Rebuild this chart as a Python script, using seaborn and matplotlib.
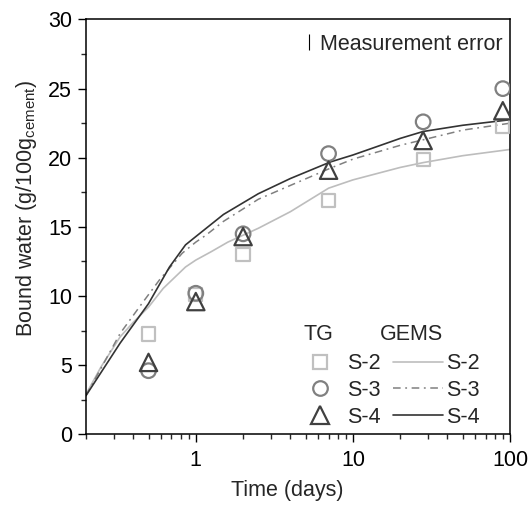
import matplotlib
matplotlib.use("Agg")
import matplotlib.pyplot as plt
import seaborn as sns
from matplotlib.lines import Line2D
from matplotlib.ticker import MultipleLocator, LogLocator, NullFormatter

# ---- data -------------------------------------------------------------
tg_time = [0.5, 1, 2, 7, 28, 90]
tg_s2 = [7.25, 10.1, 13.0, 16.9, 19.9, 22.3]
tg_s3 = [4.6, 10.2, 14.5, 20.3, 22.6, 25.0]
tg_s4 = [5.2, 9.6, 14.3, 19.1, 21.25, 23.4]

gems_s2_t = [0.2, 0.25, 0.33, 0.4, 0.5, 0.62, 0.86, 1.0, 1.25, 1.6, 2.0, 2.5, 4, 7, 10, 20, 28, 50, 100]
gems_s2 = [2.9, 4.9, 7.05, 8.1, 9.2, 10.55, 12.1, 12.6, 13.2, 13.9, 14.4, 14.9, 16.1, 17.8, 18.4, 19.3, 19.65, 20.15, 20.6]

gems_s3_t = [0.2, 0.33, 0.45, 0.59, 0.82, 1.0, 1.16, 1.5, 2.5, 4, 7.2, 10, 20, 28, 50, 100]
gems_s3 = [2.8, 7.3, 9.4, 11.2, 13.1, 13.9, 14.4, 15.4, 17.0, 18.0, 19.25, 19.9, 20.9, 21.3, 22.0, 22.5]

gems_s4_t = [0.2, 0.33, 0.5, 0.68, 0.86, 1.0, 1.5, 2.5, 4, 7.2, 10, 15, 20, 28, 50, 100]
gems_s4 = [2.8, 6.6, 9.45, 12.1, 13.7, 14.3, 15.9, 17.4, 18.5, 19.7, 20.2, 20.9, 21.4, 21.9, 22.35, 22.75]

series_labels = ["S-2", "S-3", "S-4"]
x_ticks = [1, 10, 100]
x_tick_labels = ["1", "10", "100"]
y_ticks = [0, 5, 10, 15, 20, 25, 30]

# ---- style ------------------------------------------------------------
sns.set_style("ticks")
plt.rcParams["font.family"] = ["Liberation Sans", "DejaVu Sans"]
plt.rcParams["mathtext.fontset"] = "custom"
plt.rcParams["mathtext.rm"] = "Liberation Sans"
plt.rcParams["mathtext.it"] = "Liberation Sans"
FS = 15.5

c_light = "#c0c0c0"
c_mid = "#808080"
c_dark = "#404040"

fig = plt.figure(figsize=(5.28, 5.05), dpi=100)
ax = fig.add_axes([86 / 528, 1 - 434.3 / 505, (510 - 86) / 528, (434.3 - 19.5) / 505])

# GEMS lines
sns.lineplot(x=gems_s2_t, y=gems_s2, ax=ax, color="#bdbdbd", lw=1.2, estimator=None, sort=False)
sns.lineplot(x=gems_s3_t, y=gems_s3, ax=ax, color=c_mid, lw=1.1, estimator=None, sort=False,
             ls=(0, (5, 3, 1.2, 3)))
sns.lineplot(x=gems_s4_t, y=gems_s4, ax=ax, color="#333333", lw=1.2, estimator=None, sort=False)

# TG markers
ms_sq, ms_ci, ms_tr = 9.5, 10.5, 12.5
sns.scatterplot(x=tg_time, y=tg_s2, ax=ax, marker="s", s=ms_sq ** 2, color=c_light,
                facecolor="none", edgecolor=c_light, linewidth=1.6, zorder=3)
sns.scatterplot(x=tg_time, y=tg_s3, ax=ax, marker="o", s=ms_ci ** 2, color=c_mid,
                facecolor="none", edgecolor=c_mid, linewidth=1.6, zorder=3)
sns.scatterplot(x=tg_time, y=tg_s4, ax=ax, marker="^", s=ms_tr ** 2, color=c_dark,
                facecolor="none", edgecolor=c_dark, linewidth=1.6, zorder=3)

# ---- axes -------------------------------------------------------------
ax.set_xscale("log")
ax.set_xlim(0.2, 100)
ax.set_ylim(0, 30)
ax.set_xticks(x_ticks, labels=x_tick_labels)
ax.xaxis.set_minor_locator(LogLocator(base=10, subs=range(2, 10)))
ax.xaxis.set_minor_formatter(NullFormatter())
ax.set_yticks(y_ticks)
ax.yaxis.set_minor_locator(MultipleLocator(2.5))

for sp in ax.spines.values():
    sp.set_visible(True)
    sp.set_linewidth(1.1)
    sp.set_color("black")
ax.tick_params(axis="both", which="major", direction="out", length=6, width=1.0,
               labelsize=FS, colors="black", top=False, right=False)
ax.tick_params(axis="x", which="major", pad=5)
ax.tick_params(axis="y", which="major", pad=4)
ax.tick_params(axis="both", which="minor", direction="out", length=3.5, width=1.0,
               top=False, right=False)

ax.set_xlabel("Time (days)", fontsize=FS)
ax.xaxis.set_label_coords(0.474, -0.11)
ax.set_ylabel(r"Bound water (g/100g$_{\mathregular{cement}}$)", fontsize=FS)
ax.yaxis.set_label_coords(-0.11, 0.545)

# ---- legends ----------------------------------------------------------
h_tg = [Line2D([], [], ls="", marker="s", ms=ms_sq, mfc="none", mec=c_light, mew=1.6),
        Line2D([], [], ls="", marker="o", ms=ms_ci, mfc="none", mec=c_mid, mew=1.6),
        Line2D([], [], ls="", marker="^", ms=ms_tr, mfc="none", mec=c_dark, mew=1.6)]
h_gems = [Line2D([], [], color="#bdbdbd", lw=1.2),
          Line2D([], [], color=c_mid, lw=1.1, ls=(0, (5, 3, 1.2, 3))),
          Line2D([], [], color="#333333", lw=1.2)]
leg = ax.legend(h_tg + h_gems, series_labels + series_labels, ncol=2, frameon=False,
                fontsize=FS, handlelength=2.35, handletextpad=0.1, columnspacing=0.55,
                labelspacing=0.26, loc="lower right", bbox_to_anchor=(0.958, -0.015),
                borderaxespad=0.2)
ax.add_artist(leg)
ax.text(0.514, 0.24, "TG", transform=ax.transAxes, fontsize=FS, va="center", ha="left")
ax.text(0.693, 0.24, "GEMS", transform=ax.transAxes, fontsize=FS, va="center", ha="left")

err_h = [Line2D([], [], ls="", marker="|", ms=11, mew=0.8, color="black")]
ax.legend(err_h, ["Measurement error"], frameon=False, fontsize=FS, loc="upper right",
          handlelength=0.5, handletextpad=0.3, bbox_to_anchor=(1.014, 0.997), borderaxespad=0.2)

fig.savefig("out.png", dpi=100)
